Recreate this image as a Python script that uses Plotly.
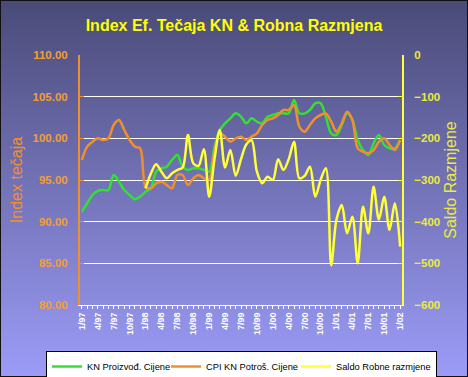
import base64
import plotly.graph_objects as go

years = ["97", "98", "99", "00", "01"]
months = [f"{m}/{y}" for y in years for m in range(1, 13)] + ["1/02"]
tick_labels = ["1/97", "4/97", "7/97", "10/97", "1/98", "4/98", "7/98", "10/98",
               "1/99", "4/99", "7/99", "10/99", "1/00", "4/00", "7/00", "10/00",
               "1/01", "4/01", "7/01", "10/01", "1/02"]

# KN Proizvođ. Cijene (left axis)
kn_proizvod = [91.2, 92.2, 93.2, 93.7, 93.8, 93.8, 95.6, 94.8, 93.8, 93.2,
               92.7, 93.0, 93.6, 94.0, 96.0, 96.4, 96.6, 97.4, 98.0, 96.6,
               96.2, 96.4, 96.4, 96.2, 96.0, 99.0, 101.0, 101.8, 102.4, 103.0,
               102.6, 101.8, 102.4, 102.0, 101.8, 102.6, 102.8, 103.0, 103.0, 103.0,
               104.6, 103.0, 103.0, 103.4, 104.2, 104.2, 102.6, 100.6, 100.4, 101.6,
               103.0, 102.2, 99.8, 98.6, 98.0, 99.4, 100.4, 99.2, 98.8, 98.8, 99.8]

# CPI KN Potroš. Cijene (left axis)
cpi_kn = [97.4, 99.0, 99.6, 100.0, 99.8, 100.0, 101.6, 102.2, 101.0, 99.8,
          99.0, 98.8, 94.2, 94.0, 94.6, 94.8, 94.4, 94.0, 95.6, 95.6,
          94.4, 95.2, 95.6, 95.2, 95.0, 98.5, 100.6, 100.2, 99.6, 100.0,
          100.2, 99.8, 100.2, 100.6, 101.6, 102.2, 102.4, 102.8, 103.4, 103.4,
          104.0, 101.4, 100.8, 101.6, 102.4, 102.8, 103.0, 102.0, 100.8, 101.8,
          103.2, 102.2, 98.8, 98.4, 98.2, 98.6, 99.6, 100.0, 99.2, 98.6, 99.8]

# Saldo Robne razmjene (right axis), from 1/98
saldo_months = months[12:]
saldo = [-320, -285, -262, -280, -296, -284, -276, -270, -192, -260,
         -266, -226, -340, -250, -180, -270, -228, -290, -250, -215,
         -205, -280, -308, -292, -300, -250, -276, -250, -208, -296,
         -290, -268, -340, -300, -272, -505, -395, -360, -428, -388,
         -500, -364, -428, -316, -395, -340, -420, -356, -460]

W, H = 468, 377
L, R, T, B = 80, 66, 55, 72
PW, PH = W - L - R, H - T - B

svg = (f'<svg xmlns="http://www.w3.org/2000/svg" width="{W}" height="{H}" '
       f'viewBox="0 0 {W} {H}" preserveAspectRatio="none">'
       '<defs><linearGradient id="g" x1="0" y1="0" x2="0" y2="1">'
       '<stop offset="0" stop-color="#4a4a78"/><stop offset="1" stop-color="#9c9cf8"/>'
       '</linearGradient></defs>'
       f'<rect x="0" y="0" width="{W}" height="{H}" fill="url(#g)" stroke="#111" stroke-width="2"/></svg>')
bg_src = "data:image/svg+xml;base64," + base64.b64encode(svg.encode()).decode()

GREEN, ORANGE, YELLOW = "#33e033", "#f0902c", "#ffff3a"
FONT = "Arial, Liberation Sans, sans-serif"

fig = go.Figure()
fig.add_trace(go.Scatter(x=months, y=kn_proizvod, name="KN Proizvođ. Cijene", legendwidth=74,
                         mode="lines", line=dict(color=GREEN, width=2.5, shape="spline", smoothing=0.9)))
fig.add_trace(go.Scatter(x=months, y=cpi_kn, name="CPI KN Potroš. Cijene", legendwidth=85,
                         mode="lines", line=dict(color=ORANGE, width=2.5, shape="spline", smoothing=0.9)))
fig.add_trace(go.Scatter(x=saldo_months, y=saldo, name="Saldo Robne razmjene", yaxis="y2", legendwidth=95,
                         mode="lines", line=dict(color=YELLOW, width=2.5, shape="spline", smoothing=0.9)))

fig.update_layout(
    width=W, height=H,
    margin=dict(l=L, r=R, t=T, b=B, autoexpand=False),
    paper_bgcolor="#7070b8",
    plot_bgcolor="rgba(0,0,0,0)",
    font=dict(family=FONT),
    title=dict(text="Index Ef. Tečaja KN & Robna Razmjena", x=0.5, xanchor="center",
               y=1 - 25 / H, yanchor="middle", yref="container",
               font=dict(size=16, color="#ffff00", weight="bold")),
    images=[dict(source=bg_src, xref="paper", yref="paper",
                 x=-L / PW, y=1 + T / PH, sizex=W / PW, sizey=H / PH,
                 xanchor="left", yanchor="top", sizing="stretch", layer="below")],
    xaxis=dict(type="category", categoryorder="array", categoryarray=months,
               range=[-0.35, 60.35],
               tickvals=months,
               ticktext=[m if m in tick_labels else "" for m in months],
               tickangle=-90, ticks="outside", ticklen=3, tickcolor="white",
               tickfont=dict(size=9, color="white", weight="bold"),
               showline=True, linecolor="white", linewidth=1,
               showgrid=False, zeroline=False),
    yaxis=dict(range=[80, 110], dtick=5, tickformat=".2f",
               showgrid=True, gridcolor="white", gridwidth=1,
               showline=True, linecolor=ORANGE, linewidth=2,
               ticks="inside", ticklen=4, tickcolor=ORANGE,
               ticklabelstandoff=8,
               tickfont=dict(size=11.5, color="#f0a030", weight="bold"),
               title=dict(text="Index tečaja", font=dict(size=16, color=ORANGE), standoff=6),
               zeroline=False),
    yaxis2=dict(range=[-600, 0], dtick=100, overlaying="y", side="right",
                showgrid=False, showline=True, linecolor=YELLOW, linewidth=2,
                ticks="inside", ticklen=4, tickcolor=YELLOW,
                ticklabelstandoff=8,
                tickfont=dict(size=11.5, color="#eaea40", weight="bold"),
                title=dict(text="Saldo Razmjene", font=dict(size=16, color="#eaea40"), standoff=6),
                zeroline=False),
    legend=dict(orientation="h", xref="paper", x=(46 - L) / PW, xanchor="left",
                yref="paper", y=(PH + T - 351) / PH, yanchor="top",
                bgcolor="white", bordercolor="black", borderwidth=1,
                font=dict(size=9.3, color="black"),
                itemwidth=30, tracegroupgap=0),
    showlegend=True,
)

fig.write_html("out.html", config={"displayModeBar": False},
               post_script="document.body.style.margin='0';")
